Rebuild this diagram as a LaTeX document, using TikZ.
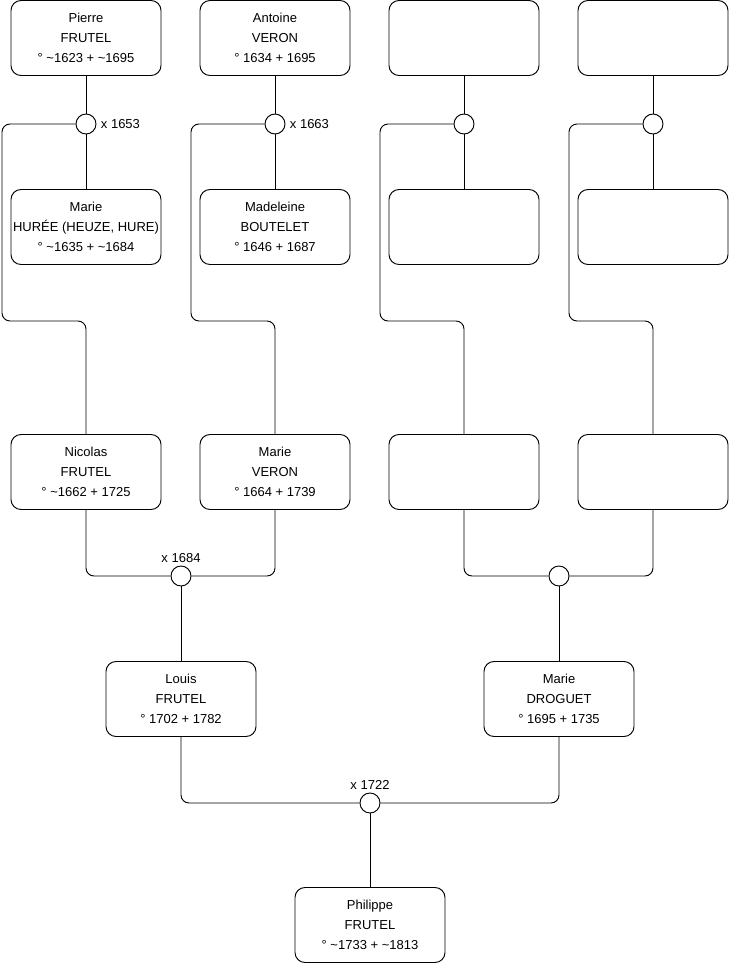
\documentclass[tikz,border=0pt]{standalone}
\usepackage{fontspec}
\setmainfont{Liberation Sans}
\usetikzlibrary{positioning}
\tikzset{
    person/.style={draw, rounded corners=7.5pt, minimum width=112.5pt, minimum height=56.25pt,
        inner sep=0pt, align=center, font=\fontsize{9.75}{15}\selectfont},
    union/.style={draw, circle, fill=white, minimum size=15pt, inner sep=0pt},
    link/.style={rounded corners=6pt},
    year/.style={font=\fontsize{9.75}{11}\selectfont, inner sep=1pt}
}
\newcommand{\tld}{\textasciitilde}
\begin{document}
\begin{tikzpicture}[x=0.75pt, y=-0.75pt, line width=0.7pt]
        \useasboundingbox (0, 0) rectangle (740, 975);
        % grandparents
        \node[person] (pierre) at (86, 38) {Pierre\\FRUTEL\\° \tld1623 + \tld1695};
        \node[person] (marieh) at (86, 227) {Marie\\HURÉE (HEUZE, HURE)\\° \tld1635 + \tld1684};
        \node[person] (antoine) at (275, 38) {Antoine\\VERON\\° 1634 + 1695};
        \node[person] (madeleine) at (275, 227) {Madeleine\\BOUTELET\\° 1646 + 1687};
        \foreach \n/\x/\y in {b1/464/38, b2/464/227, b3/653/38, b4/653/227, b5/464/472, b6/653/472}{
            \node[person] (\n) at (\x, \y) {};
        }
        % parents
        \node[person] (nicolas) at (86, 472) {Nicolas\\FRUTEL\\° \tld1662 + 1725};
        \node[person] (mariev) at (275, 472) {Marie\\VERON\\° 1664 + 1739};
        \node[person] (louis) at (181, 699) {Louis\\FRUTEL\\° 1702 + 1782};
        \node[person] (mariedr) at (559, 699) {Marie\\DROGUET\\° 1695 + 1735};
        \node[person] (philippe) at (370, 925) {Philippe\\FRUTEL\\° \tld1733 + \tld1813};
        % unions
        \node[union] (u1653) at (86, 124) {};
        \node[union] (u1663) at (275, 124) {};
        \node[union] (u3) at (464, 124) {};
        \node[union] (u4) at (653, 124) {};
        \node[union] (u1684) at (181, 576) {};
        \node[union] (u5) at (559, 576) {};
        \node[union] (u1722) at (370, 803) {};
        \node[year, right=2pt of u1653] (l1653) {x 1653};
        \node[year, right=2pt of u1663] (l1663) {x 1663};
        \node[year, above=1pt of u1684] (l1684) {x 1684};
        \node[year, above=1pt of u1722] (l1722) {x 1722};
        % links
        \draw (pierre) -- (u1653) -- (marieh);
        \draw (antoine) -- (u1663) -- (madeleine);
        \draw (b1) -- (u3) -- (b2);
        \draw (b3) -- (u4) -- (b4);
        \draw[link] (u1653.west) -| (2, 321) -| (nicolas.north);
        \draw[link] (u1663.west) -| (191, 321) -| (mariev.north);
        \draw[link] (u3.west) -| (380, 321) -| (b5.north);
        \draw[link] (u4.west) -| (569, 321) -| (b6.north);
        \draw[link] (nicolas.south) |- (u1684.west);
        \draw[link] (mariev.south) |- (u1684.east);
        \draw[link] (b5.south) |- (u5.west);
        \draw[link] (b6.south) |- (u5.east);
        \draw (u1684) -- (louis);
        \draw (u5) -- (mariedr);
        \draw[link] (louis.south) |- (u1722.west);
        \draw[link] (mariedr.south) |- (u1722.east);
        \draw (u1722) -- (philippe);
    \end{tikzpicture}
\end{document}
